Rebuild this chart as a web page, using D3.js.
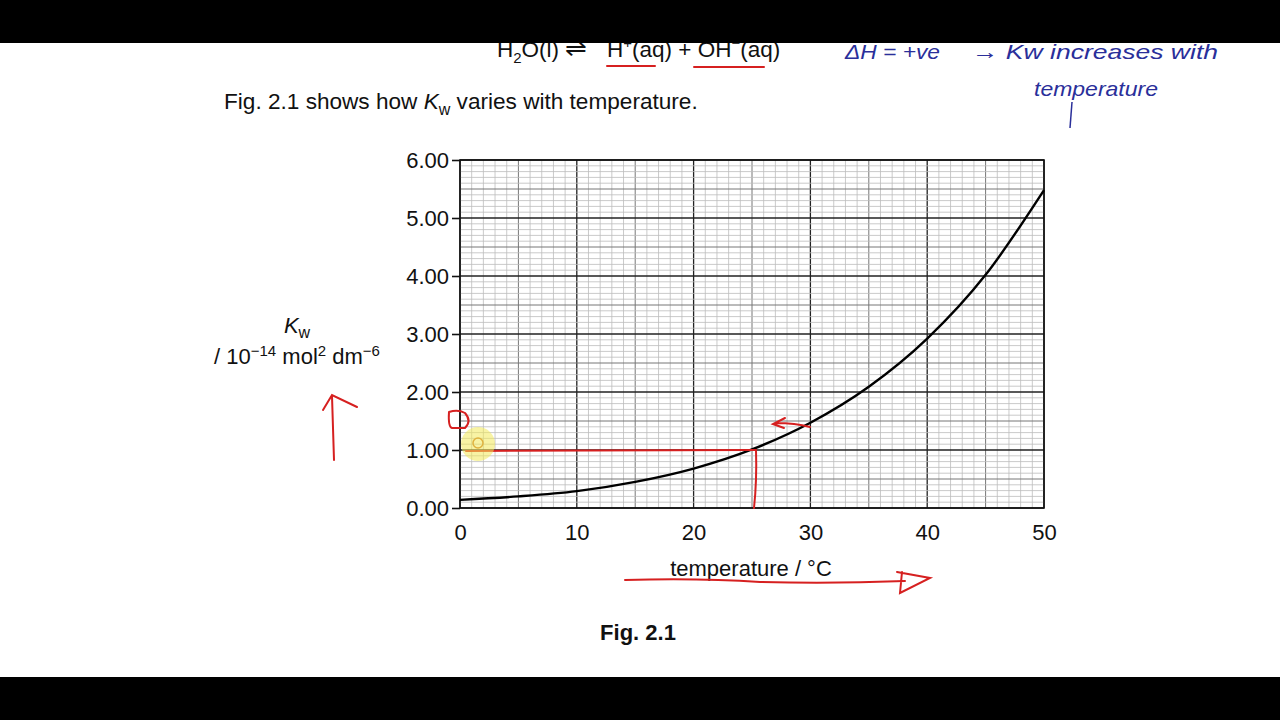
<!DOCTYPE html>
<html>
<head>
<meta charset="utf-8">
<script src="https://cdn.jsdelivr.net/npm/d3@7"></script>
<style>
  body { margin: 0; background: #000; }
  svg text { font-family: "Liberation Sans", Arial, sans-serif; }
</style>
</head>
<body>
<div id="chart"></div>
<script>
const width = 1280;
const height = 720;

// data
const temps = [0, 5, 10, 15, 20, 25, 30, 35, 40, 45, 50];
const kwValues = [0.14, 0.2, 0.29, 0.45, 0.68, 1.01, 1.47, 2.09, 2.92, 4.02, 5.48];
const yTicks = [0, 1, 2, 3, 4, 5, 6];
const xTicks = [0, 10, 20, 30, 40, 50];

const svg = d3.select("#chart").append("svg")
  .attr("width", width).attr("height", height);

// page
svg.append("rect").attr("x", 0).attr("y", 0).attr("width", width).attr("height", height).attr("fill", "#fff");

const plot = { left: 460, right: 1044, top: 160, bottom: 508 };
const x = d3.scaleLinear().domain([0, 50]).range([plot.left, plot.right]);
const y = d3.scaleLinear().domain([0, 6]).range([plot.bottom, plot.top]);

// graph paper grid
const grid = svg.append("g");
const xMinor = d3.range(0, 50.01, 1);
const yMinor = d3.range(0, 6.001, 0.1);
function gridStyle(v, major, mid) {
  const r = Math.round(v * 1000) / 1000;
  if (Math.abs(r % major) < 1e-6 || Math.abs(r % major - major) < 1e-6) return ["#222", 1.3];
  if (Math.abs(r % mid) < 1e-6 || Math.abs(r % mid - mid) < 1e-6) return ["#777", 1];
  return ["#bdbdbd", 0.8];
}
xMinor.forEach(v => {
  const [c, w] = gridStyle(v, 10, 5);
  grid.append("line").attr("x1", x(v)).attr("x2", x(v)).attr("y1", plot.top).attr("y2", plot.bottom)
    .attr("stroke", c).attr("stroke-width", w);
});
yMinor.forEach(v => {
  const [c, w] = gridStyle(v, 1, 0.5);
  grid.append("line").attr("x1", plot.left).attr("x2", plot.right).attr("y1", y(v)).attr("y2", y(v))
    .attr("stroke", c).attr("stroke-width", w);
});
svg.append("rect").attr("x", plot.left).attr("y", plot.top)
  .attr("width", plot.right - plot.left).attr("height", plot.bottom - plot.top)
  .attr("fill", "none").attr("stroke", "#111").attr("stroke-width", 1.6);

// axes
const yAxis = svg.append("g").attr("transform", `translate(${plot.left},0)`)
  .call(d3.axisLeft(y).tickValues(yTicks).tickSize(8).tickPadding(3).tickFormat(d3.format(".2f")));
yAxis.select(".domain").remove();
yAxis.selectAll("line").attr("stroke", "#111").attr("stroke-width", 1.6);
yAxis.selectAll("text").attr("font-size", 22).attr("fill", "#111").attr("font-family", "Liberation Sans, Arial, sans-serif");

const xAxis = svg.append("g").attr("transform", `translate(0,${plot.bottom})`)
  .call(d3.axisBottom(x).tickValues(xTicks).tickSize(0).tickPadding(16));
xAxis.select(".domain").remove();
xAxis.selectAll("text").attr("font-size", 22).attr("fill", "#111").attr("font-family", "Liberation Sans, Arial, sans-serif");

// curve
const line = d3.line().x((d, i) => x(temps[i])).y(d => y(d)).curve(d3.curveMonotoneX);
svg.append("path").datum(kwValues).attr("d", line)
  .attr("fill", "none").attr("stroke", "#000").attr("stroke-width", 2.4);

// axis labels
const yl = svg.append("text").attr("x", 297).attr("y", 333).attr("text-anchor", "middle").attr("font-size", 22).attr("fill", "#111");
yl.append("tspan").attr("font-style", "italic").text("K");
yl.append("tspan").attr("font-size", 16).attr("dy", 5).text("w");
const yl2 = svg.append("text").attr("x", 297).attr("y", 364).attr("text-anchor", "middle").attr("font-size", 22).attr("fill", "#111");
yl2.append("tspan").text("/ 10");
yl2.append("tspan").attr("font-size", 15).attr("dy", -8).text("−14");
yl2.append("tspan").attr("dy", 8).text(" mol");
yl2.append("tspan").attr("font-size", 15).attr("dy", -8).text("2");
yl2.append("tspan").attr("dy", 8).text(" dm");
yl2.append("tspan").attr("font-size", 15).attr("dy", -8).text("−6");

svg.append("text").attr("x", 751).attr("y", 576).attr("text-anchor", "middle").attr("font-size", 22).attr("fill", "#111")
  .text("temperature / °C");
svg.append("text").attr("x", 638).attr("y", 640).attr("text-anchor", "middle").attr("font-size", 22)
  .attr("font-weight", "bold").attr("fill", "#111").text("Fig. 2.1");

// intro text
const intro = svg.append("text").attr("x", 224).attr("y", 109).attr("font-size", 22.6).attr("fill", "#111");
intro.append("tspan").text("Fig. 2.1 shows how ");
intro.append("tspan").attr("font-style", "italic").text("K");
intro.append("tspan").attr("font-size", 16).attr("dy", 6).text("w");
intro.append("tspan").attr("dy", -6).text(" varies with temperature.");

// equation (cut by the top bar)
const eq = svg.append("text").attr("y", 57).attr("font-size", 22.5).attr("fill", "#111");
eq.append("tspan").attr("x", 497).text("H");
eq.append("tspan").attr("font-size", 15).attr("dy", 6).text("2");
eq.append("tspan").attr("dy", -6).text("O(l)");
eq.append("tspan").attr("x", 565).attr("font-size", 26).text("⇌");
eq.append("tspan").attr("x", 607).text("H");
eq.append("tspan").attr("font-size", 15).attr("dy", -9).text("+");
eq.append("tspan").attr("dy", 9).text("(aq) + OH");
eq.append("tspan").attr("font-size", 15).attr("dy", -9).text("−");
eq.append("tspan").attr("dy", 9).text("(aq)");

// red annotations
const red = "#d62020";
const ann = svg.append("g").attr("fill", "none").attr("stroke", red).attr("stroke-width", 2).attr("stroke-linecap", "round");
ann.append("path").attr("d", "M607,66 L655,66");
ann.append("path").attr("d", "M694,67 L764,67");
svg.append("circle").attr("cx", 478).attr("cy", 444).attr("r", 17).attr("fill", "#f3ea5a").attr("opacity", 0.55);
ann.append("circle").attr("cx", 478).attr("cy", 443).attr("r", 5).attr("stroke", "#c87020").attr("stroke-width", 1.5);
ann.append("path").attr("d", `M466,${y(1) + 1} L750,${y(1)} L756,${y(1)}`);
ann.append("path").attr("d", `M756,${y(1)} Q757,480 754,${plot.bottom}`);
ann.append("path").attr("d", "M776,423 Q795,423 810,427 M785,418 L773,424 L784,428");
ann.append("path").attr("d", "M449,412 Q448,427 452,428 L465,428 Q472,421 465,413 Q458,409 449,412");
ann.append("path").attr("d", "M334,460 L332,396 M323,410 L332,395 L357,407");
ann.append("path").attr("d", "M625,580 Q700,578 760,582 Q830,584 905,581 M897,572 L930,578 L900,593 L902,572");

// blue handwriting
const ink = "#2a2f9a";
svg.append("text").attr("x", 845).attr("y", 59).attr("font-size", 21).attr("font-style", "italic")
  .attr("fill", ink).attr("font-family", "DejaVu Sans, sans-serif")
  .attr("textLength", 95).attr("lengthAdjust", "spacingAndGlyphs").text("ΔH = +ve");
svg.append("text").attr("x", 972).attr("y", 59).attr("font-size", 21).attr("font-style", "italic")
  .attr("fill", ink).attr("font-family", "DejaVu Sans, sans-serif")
  .attr("textLength", 246).attr("lengthAdjust", "spacingAndGlyphs").text("→ Kw increases with");
svg.append("text").attr("x", 1034).attr("y", 96).attr("font-size", 21).attr("font-style", "italic")
  .attr("fill", ink).attr("font-family", "DejaVu Sans, sans-serif")
  .attr("textLength", 124).attr("lengthAdjust", "spacingAndGlyphs").text("temperature");
svg.append("path").attr("d", "M1072,102 L1070,128").attr("stroke", ink).attr("stroke-width", 1.5).attr("fill", "none");

// letterbox bars
svg.append("rect").attr("x", 0).attr("y", 0).attr("width", width).attr("height", 43).attr("fill", "#000");
svg.append("rect").attr("x", 0).attr("y", 677).attr("width", width).attr("height", 43).attr("fill", "#000");
</script>
</body>
</html>
